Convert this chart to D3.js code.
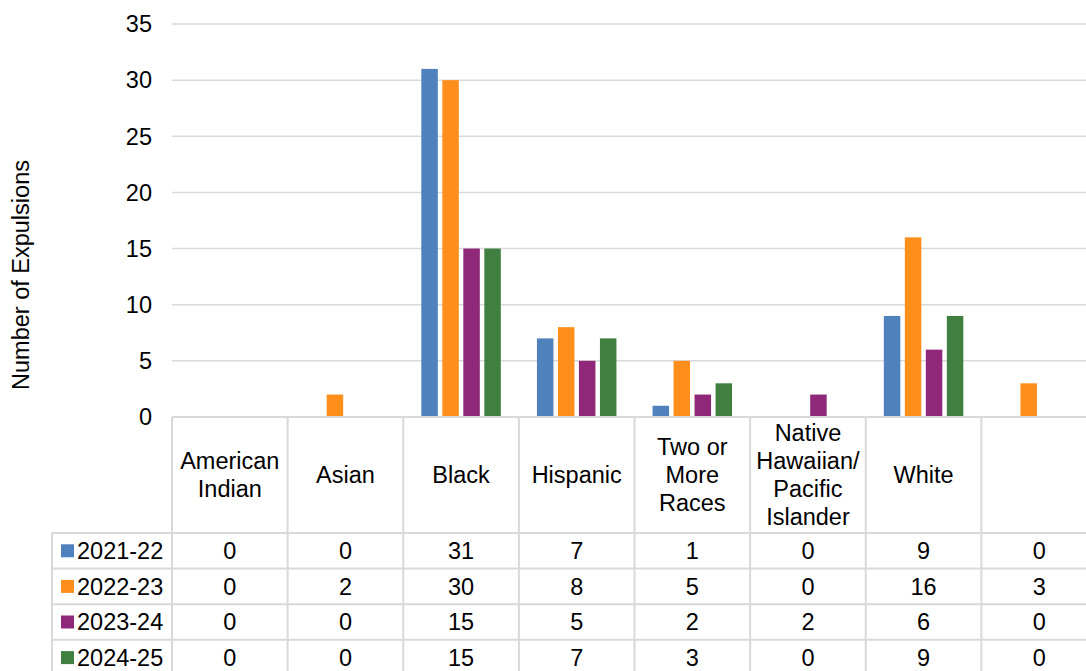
<!DOCTYPE html>
<html><head><meta charset="utf-8">
<script src="https://cdn.jsdelivr.net/npm/d3@7"></script>
<style>body{margin:0;background:#fff;}svg{display:block;font-family:"Liberation Sans",Arial,sans-serif;}</style>
</head><body>
<svg id="c" width="1086" height="671"></svg>
<script>
const categories = [["American","Indian"],["Asian"],["Black"],["Hispanic"],["Two or","More","Races"],["Native","Hawaiian/","Pacific","Islander"],["White"],[""]];
const seriesNames = ["2021-22","2022-23","2023-24","2024-25"];
const v2021 = [0,0,31,7,1,0,9,0];
const v2022 = [0,2,30,8,5,0,16,3];
const v2023 = [0,0,15,5,2,2,6,0];
const v2024 = [0,0,15,7,3,0,9,0];
const yTicks = [0,5,10,15,20,25,30,35];
const colors = ["#4F81BD","#FF8F1C","#90287A","#3F7F3F"];
const series = [v2021,v2022,v2023,v2024];

(function(){
const svg = d3.select("#c");
const fs = 23.5;
const pL = 172, pR = 1097, pT = 24, pB = 417;
const x = d3.scaleBand().domain(d3.range(categories.length)).range([pL,pR]);
const y = d3.scaleLinear().domain([0,35]).range([pB,pT]);
const grid = "#d9d9d9";

svg.append("g").selectAll("line").data(yTicks).join("line")
  .attr("x1",pL).attr("x2",pR).attr("y1",d=>y(d)).attr("y2",d=>y(d))
  .attr("stroke",grid).attr("stroke-width",1.5);
svg.append("g").selectAll("text").data(yTicks).join("text")
  .attr("x",152).attr("y",d=>y(d)).attr("dy","0.35em").attr("text-anchor","end")
  .attr("font-size",fs).attr("fill","#000").text(d=>d);
svg.append("text").attr("transform","translate(29,275) rotate(-90)")
  .attr("text-anchor","middle").attr("font-size",fs).text("Number of Expulsions");

const bw = 16.5, gap = 4.5;
const groupW = 4*bw + 3*gap;
series.forEach((s,si)=>{
  svg.append("g").selectAll("rect").data(s).join("rect")
    .attr("x",(d,i)=>x(i)+x.bandwidth()/2-groupW/2+si*(bw+gap))
    .attr("width",bw)
    .attr("y",d=>y(d)).attr("height",d=>y(0)-y(d))
    .attr("fill",colors[si]);
});

const hdrBottom = 533, rowH = 35.6;
const tg = svg.append("g");
const rowsY = d3.range(5).map(i=>hdrBottom+i*rowH);
tg.append("line").attr("x1",pL).attr("x2",pR).attr("y1",pB).attr("y2",pB).attr("stroke",grid).attr("stroke-width",2);
rowsY.forEach(ry=>{
  tg.append("line").attr("x1",52).attr("x2",pR).attr("y1",ry).attr("y2",ry).attr("stroke",grid).attr("stroke-width",2);
});
d3.range(categories.length+1).forEach(i=>{
  const xx = i<categories.length ? x(i) : pR;
  tg.append("line").attr("x1",xx).attr("x2",xx).attr("y1",pB).attr("y2",671).attr("stroke",grid).attr("stroke-width",2);
});
tg.append("line").attr("x1",52).attr("x2",52).attr("y1",hdrBottom).attr("y2",671).attr("stroke",grid).attr("stroke-width",2);

const lh = 28, hc = 475;
categories.forEach((lines,i)=>{
  const t = tg.append("text").attr("text-anchor","middle").attr("font-size",fs);
  lines.forEach((ln,li)=>{
    t.append("tspan").attr("x",x(i)+x.bandwidth()/2)
      .attr("y",hc + (li-(lines.length-1)/2)*lh).attr("dy","0.35em").text(ln);
  });
});
series.forEach((s,si)=>{
  const cy = hdrBottom + si*rowH + rowH/2;
  tg.append("rect").attr("x",61).attr("y",cy-6.5).attr("width",13).attr("height",13).attr("fill",colors[si]);
  tg.append("text").attr("x",77).attr("y",cy).attr("dy","0.35em").attr("font-size",fs).text(seriesNames[si]);
  tg.append("g").selectAll("text").data(s).join("text")
    .attr("x",(d,i)=>x(i)+x.bandwidth()/2).attr("y",cy).attr("dy","0.35em")
    .attr("text-anchor","middle").attr("font-size",fs).text(d=>d);
});
})();
</script>
</body></html>
